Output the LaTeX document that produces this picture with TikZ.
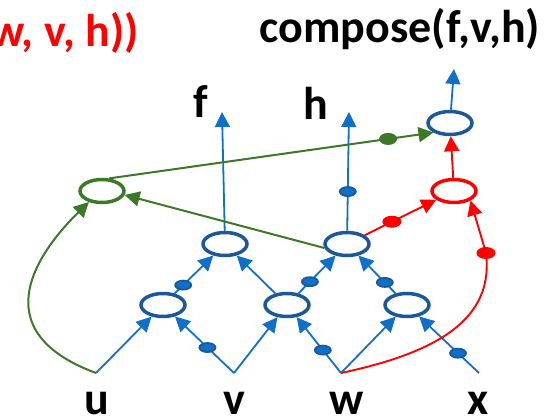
\documentclass[tikz,border=0pt]{standalone}
\usepackage{fontspec}
\setmainfont{Carlito}
\usetikzlibrary{shapes.geometric,arrows.meta}
\definecolor{lblue}{RGB}{16,112,200}
\definecolor{dblue}{RGB}{28,88,152}
\definecolor{dgreen}{RGB}{60,120,40}
\definecolor{pred}{RGB}{255,0,0}
\begin{document}
\begin{tikzpicture}[x=1pt,y=-1pt,
  unit/.style={ellipse,draw=dblue,line width=3.5pt,minimum width=44pt,minimum height=23pt,inner sep=0pt},
  tip/.style={-{Triangle[length=15pt,width=15pt]}},
  bl/.style={draw=lblue,line width=1.8pt,tip},
  rl/.style={draw=pred,line width=1.9pt,tip},
  gl/.style={draw=dgreen,line width=2pt,tip},
  bdot/.style={ellipse,fill=lblue,draw=dblue,line width=1.8pt,minimum width=16pt,minimum height=9pt,inner sep=0pt},
  rdot/.style={ellipse,fill=pred,minimum width=19pt,minimum height=12pt,inner sep=0pt},
  gdot/.style={ellipse,fill=dgreen,minimum width=18pt,minimum height=12pt,inner sep=0pt},
  lab/.style={font=\fontsize{46}{55}\selectfont\bfseries,inner sep=0pt,anchor=base}]
\useasboundingbox (0,0) rectangle (558,419);
% units
\node[unit] (T) at (450,123) {};
\node[unit,draw=pred] (R) at (454,191) {};
\node[unit,draw=dgreen] (G) at (102,191) {};
\node[unit] (L2a) at (225,244) {};
\node[unit] (L2b) at (347,244) {};
\node[unit] (L1a) at (163,305) {};
\node[unit] (L1b) at (287,305) {};
\node[unit] (L1c) at (407,305) {};
% inputs and free ends
\coordinate (u) at (96,373);
\coordinate (v) at (234,373);
\coordinate (w) at (341,373);
\coordinate (x) at (479,373);
\coordinate (ftip) at (222,112);
\coordinate (htip) at (349,112);
\coordinate (ttip) at (454,69);
\coordinate (rc) at (486,253);
% labels
\node[lab,text=pred,anchor=base east] (title) at (139,47) {w, v, h))};
\node[lab] (comp) at (400,43) {compose(f,v,h)};
\node[lab] (lf) at (201,118) {f};
\node[lab] (lh) at (316,120) {h};
\node[lab] (lu) at (97,415) {u};
\node[lab] (lv) at (234,415) {v};
\node[lab] (lw) at (347,415) {w};
\node[lab] (lx) at (478,415) {x};
% blue network
\draw[bl] (u) -- (L1a);
\draw[bl] (v) -- node[bdot,pos=0.45]{} (L1a);
\draw[bl] (v) -- (L1b);
\draw[bl] (w) -- node[bdot,pos=0.41]{} (L1b);
\draw[bl] (w) -- (L1c);
\draw[bl] (x) -- node[bdot,pos=0.35]{} (L1c);
\draw[bl] (L1a) -- node[bdot,pos=0.22]{} (L2a);
\draw[bl] (L1b) -- (L2a);
\draw[bl] (L1b) -- node[bdot,pos=0.31]{} (L2b);
\draw[bl] (L1c) -- node[bdot,pos=0.29]{} (L2b);
\draw[bl] (L2a) -- (ftip);
\draw[bl] (L2b) -- node[bdot,pos=0.33]{} (htip);
\draw[bl] (T) -- (ttip);
% red
\draw[rl] (L2b) -- node[rdot,pos=0.38]{} (R);
\draw[rl] (w) .. controls (440,352) and (494,318) .. (rc) -- (R.-30);
\node[rdot] (rcd) at (rc) {};
\draw[rl] (R) -- (T);
% green
\draw[gl] (u) .. controls (-20,330) and (40,250) .. (G.-140);
\draw[gl] (L2b.190) -- (G.-10);
\draw[gl] (G.60) -- node[gdot,pos=0.86]{} (T.-150);
\end{tikzpicture}
\end{document}
